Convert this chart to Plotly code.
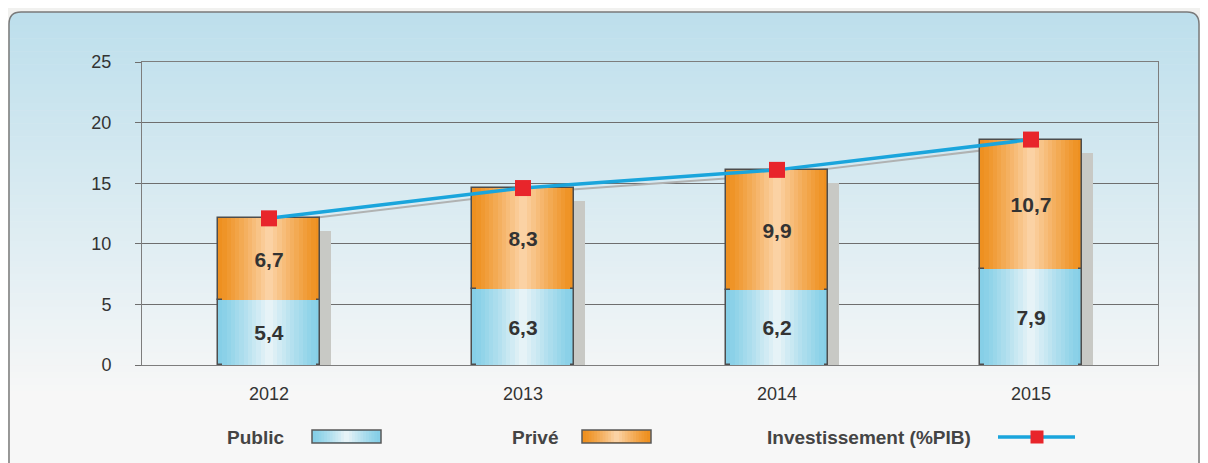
import plotly.graph_objects as go

# data
years = ["2012", "2013", "2014", "2015"]
public = [5.4, 6.3, 6.2, 7.9]
prive = [6.7, 8.3, 9.9, 10.7]
invest = [12.1, 14.6, 16.1, 18.6]

# the page puts the figure 8px in from the window corner
W, H = 1200, 455
ML, MR, MT, MB = 134, 50, 54, 98
PW, PH = W - ML - MR, H - MT - MB
OFF = 8


# window pixel -> paper helpers for the decorations
def px(x):
    return (x - OFF - ML) / PW


def py(y):
    return (H - MB - (y - OFF)) / PH


def hexrgb(h):
    h = h.lstrip("#")
    return [int(h[i:i + 2], 16) for i in (0, 2, 4)]


def mix(c1, c2, t):
    a, b = hexrgb(c1), hexrgb(c2)
    return "rgb(%d,%d,%d)" % tuple(round(a[i] + (b[i] - a[i]) * t) for i in range(3))


fig = go.Figure()
shapes = []
annotations = []

# background panel gradient
outside = "#f1f1ef"
top_c, bot_c = "#bddfec", "#f7f7f7"
n_strips = 70
y_top, y_bot = 12, 470
left_x, right_x = 9, 1199
for i in range(n_strips):
    ya = y_top + (y_bot - y_top) * i / n_strips
    yb = y_top + (y_bot - y_top) * (i + 1) / n_strips + 0.5
    t = min(1.0, max(0.0, (ya - 12) / (390 - 12)))
    shapes.append(dict(type="rect", xref="paper", yref="paper", layer="below",
                       x0=px(left_x), x1=px(right_x), y0=py(yb), y1=py(ya),
                       fillcolor=mix(top_c, bot_c, t), line=dict(width=0)))
# rounded corner cuts and border
rx, ry = 12 / PW, 12 / PH
x0, x1, yt = px(left_x), px(right_x), py(12)
ex, ey = 0.001, 0.004
shapes.append(dict(type="path", xref="paper", yref="paper", layer="below",
                   path="M %f,%f L %f,%f Q %f,%f %f,%f Z" % (x0 - ex, yt + ey, x0 + rx, yt + ey, x0, yt, x0 - ex, yt - ry),
                   fillcolor=outside, line=dict(width=0)))
shapes.append(dict(type="path", xref="paper", yref="paper", layer="below",
                   path="M %f,%f L %f,%f Q %f,%f %f,%f Z" % (x1 + ex, yt + ey, x1 - rx, yt + ey, x1, yt, x1 + ex, yt - ry),
                   fillcolor=outside, line=dict(width=0)))
shapes.append(dict(type="path", xref="paper", yref="paper", layer="below",
                   path="M %f,%f L %f,%f Q %f,%f %f,%f L %f,%f Q %f,%f %f,%f L %f,%f" % (
                       x0, py(470), x0, yt - ry, x0, yt, x0 + rx, yt, x1 - rx, yt, x1, yt, x1, yt - ry, x1, py(470)),
                   line=dict(color="#7a7a7a", width=1.5)))

# shadows (base subplot, shifted axes)
fig.add_trace(go.Bar(x=years, y=invest, width=0.4, marker=dict(color="#c8c9c5", line=dict(width=0)),
                     xaxis="x", yaxis="y", hoverinfo="skip", showlegend=False))
fig.add_trace(go.Scatter(x=years, y=invest, mode="lines", line=dict(color="#b0b2b2", width=2),
                         xaxis="x2", yaxis="y2", hoverinfo="skip", showlegend=False))

# gradient bars
n_layers = 12
bar_w = 0.4
pub_edge, pub_center = "#86cfe7", "#e6f3f7"
pri_edge, pri_center = "#ee9020", "#fbd2a4"
for series, base, edge, center in [(public, None, pub_edge, pub_center),
                                   (prive, public, pri_edge, pri_center)]:
    for k in range(n_layers):
        t = k / (n_layers - 1)
        w = bar_w * (1 - t * 0.92)
        fig.add_trace(go.Bar(
            x=years, y=series, base=base, width=w,
            marker=dict(color=mix(edge, center, t ** 1.2),
                        line=dict(color="#4d4d4d", width=1.5 if k == 0 else 0)),
            xaxis="x3", yaxis="y3", hoverinfo="skip", showlegend=False))
    fig.add_trace(go.Bar(
        x=years, y=series, base=base, width=bar_w,
        text=["<b>%s</b>" % ("%.1f" % v).replace(".", ",") for v in series],
        textposition="inside", insidetextanchor="middle",
        insidetextfont=dict(size=21, color="#333333", family="Liberation Sans, Arial"),
        marker=dict(color="rgba(0,0,0,0)", line=dict(width=0)),
        xaxis="x3", yaxis="y3", hoverinfo="skip", showlegend=False))

fig.add_trace(go.Scatter(
    x=years, y=invest, mode="lines+markers",
    line=dict(color="#1aa5dc", width=3.5),
    marker=dict(symbol="square", size=16, color="#e8252b"),
    xaxis="x3", yaxis="y3", showlegend=False, name="Investissement (%PIB)"))


# custom legend
def grad_rect(xa, xb, ya, yb, edge, center):
    shapes.append(dict(type="rect", xref="paper", yref="paper", x0=px(xa), x1=px(xb), y0=py(yb), y1=py(ya),
                       fillcolor=edge, line=dict(color="#5a5a5a", width=1.5)))
    cx = (xa + xb) / 2
    hw = (xb - xa) / 2 - 1
    for k in range(1, n_layers):
        t = k / (n_layers - 1)
        w = hw * (1 - t * 0.92)
        shapes.append(dict(type="rect", xref="paper", yref="paper", x0=px(cx - w), x1=px(cx + w),
                           y0=py(yb - 1), y1=py(ya + 1), fillcolor=mix(edge, center, t ** 1.2), line=dict(width=0)))


leg_font = dict(size=19, color="#444444", family="Liberation Sans, Arial")
for label, right, (sa, sb), cols in [("Public", 286, (312, 381), (pub_edge, pub_center)),
                                      ("Privé", 560, (582, 651), (pri_edge, pri_center))]:
    annotations.append(dict(text="<b>%s</b>" % label, xref="paper", yref="paper", x=px(right), y=py(437),
                            xanchor="right", yanchor="middle", showarrow=False, font=leg_font))
    grad_rect(sa, sb, 430, 443, cols[0], cols[1])
annotations.append(dict(text="<b>Investissement (%PIB)</b>", xref="paper", yref="paper", x=px(973), y=py(437),
                        xanchor="right", yanchor="middle", showarrow=False, font=leg_font))
shapes.append(dict(type="line", xref="paper", yref="paper", x0=px(998), x1=px(1075), y0=py(437), y1=py(437),
                   line=dict(color="#1aa5dc", width=3.5)))
shapes.append(dict(type="rect", xref="paper", yref="paper", x0=px(1030.5), x1=px(1043.5), y0=py(443.5), y1=py(430.5),
                   fillcolor="#e8252b", line=dict(width=0)))

dx = 11 / PW * 4  # shadow shift in category units
dy = 13 / PH * 25  # shadow shift in y units
ly = 5 / PH * 25
fig.update_layout(
    width=W, height=H,
    margin=dict(l=ML, r=MR, t=MT, b=MB),
    paper_bgcolor=outside, plot_bgcolor="rgba(0,0,0,0)",
    barmode="overlay", bargap=0,
    showlegend=False,
    font=dict(family="Liberation Sans, Arial", color="#333333"),
    xaxis=dict(type="category", range=[-0.5 - dx, 3.5 - dx], visible=False, fixedrange=True),
    yaxis=dict(range=[dy, 25 + dy], visible=False),
    xaxis2=dict(type="category", overlaying="x", range=[-0.5, 3.5], visible=False),
    yaxis2=dict(overlaying="y", range=[ly, 25 + ly], visible=False),
    xaxis3=dict(type="category", overlaying="x", range=[-0.5, 3.5], showgrid=False,
                showline=True, mirror=True, linecolor="#7d7d7d", linewidth=1,
                ticks="", tickfont=dict(size=18, color="#333333"), ticklabelstandoff=12),
    yaxis3=dict(overlaying="y", range=[0, 25], tickvals=[0, 5, 10, 15, 20, 25],
                showgrid=True, gridcolor="#6e6e6e", gridwidth=1, zeroline=False,
                showline=True, mirror=True, linecolor="#7d7d7d", linewidth=1,
                ticks="outside", ticklen=6, tickcolor="#6e6e6e",
                tickfont=dict(size=18, color="#333333"), ticklabelstandoff=20),
    shapes=shapes, annotations=annotations,
)

fig.write_html("out.html")
